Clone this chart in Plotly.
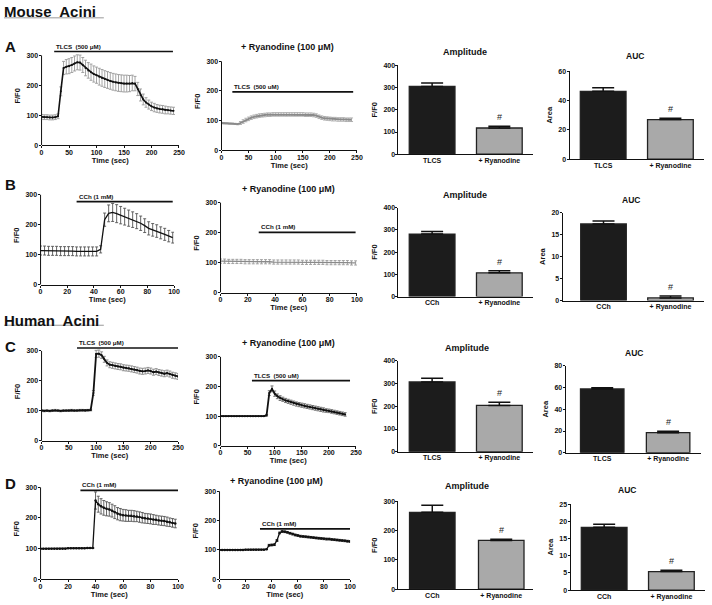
import plotly.graph_objects as go

W, H = 712, 605
FONT = "Liberation Sans, Arial, sans-serif"

# ---------------- time-course data (F/F0) ----------------
step_A = 5
A_tlcs = [95, 94, 94, 93, 93, 94, 97, 180, 258, 262, 264, 268, 273, 277, 276, 268, 258, 250, 244, 238,
          234, 229, 225, 221, 218, 215, 212, 210, 208, 207, 206, 206, 206, 208, 206, 188, 168, 153, 143, 136,
          130, 126, 123, 121, 120, 118, 117, 116, 115]
A_tlcs_err = [8, 8, 8, 8, 8, 8, 8, 15, 22, 24, 25, 25, 25, 25, 25, 25, 26, 26, 27, 27,
              27, 28, 28, 28, 28, 28, 28, 28, 28, 28, 28, 28, 27, 26, 24, 22, 20, 18, 16, 15,
              14, 14, 13, 13, 13, 13, 12, 12, 12]
A_ryan = [92, 91, 91, 90, 90, 89, 88, 92, 97, 102, 106, 110, 113, 115, 117, 118, 119, 120, 120, 121,
          121, 121, 121, 121, 121, 121, 121, 121, 121, 121, 121, 120, 120, 120, 119, 117, 113, 110, 108, 107,
          106, 105, 105, 104, 104, 104, 103, 103, 103]
A_ryan_err = [2, 2, 2, 2, 2, 2, 2, 5, 6, 6, 6, 6, 6, 6, 6, 6, 6, 6, 6, 6,
              6, 6, 6, 6, 6, 6, 6, 6, 6, 6, 6, 6, 6, 6, 6, 6, 6, 6, 6, 6,
              6, 6, 6, 6, 6, 6, 6, 6, 6]

step_B = 3
B_cch = [114, 114, 113, 113, 113, 112, 112, 112, 112, 111, 111, 111, 111, 111, 111, 118, 217, 238, 241, 237,
         232, 227, 222, 217, 212, 205, 197, 188, 183, 179, 173, 168, 162, 157]
B_cch_err = [15, 15, 15, 15, 15, 15, 15, 15, 15, 15, 15, 15, 15, 15, 15, 12, 22, 28, 30, 30,
             29, 28, 27, 26, 25, 24, 23, 22, 21, 21, 20, 20, 19, 18]
B_ryan = [105, 105, 104, 104, 104, 104, 103, 103, 103, 103, 103, 103, 103, 102, 102, 102, 102, 102, 102, 102,
          101, 101, 101, 101, 101, 101, 100, 100, 100, 100, 100, 100, 99, 99]
B_ryan_err = [7, 7, 7, 7, 7, 7, 7, 7, 7, 7, 7, 7, 7, 7, 7, 7, 7, 7, 7, 7,
              7, 7, 7, 7, 7, 7, 7, 7, 7, 7, 7, 7, 7, 7]

step_C = 5
C_tlcs = [101, 100, 101, 100, 101, 102, 101, 100, 101, 101, 101, 102, 101, 101, 102, 102, 101, 102, 103,
          160, 290, 291, 286, 272, 260, 254, 252, 250, 248, 247, 244, 243, 242, 240, 238, 236, 233, 232,
          233, 235, 233, 229, 231, 228, 226, 224, 226, 223, 219, 217, 215]
C_tlcs_err = [3, 3, 3, 3, 3, 3, 3, 3, 3, 3, 3, 3, 3, 3, 3, 3, 3, 3, 3,
              8, 12, 12, 11, 10, 10, 10, 10, 10, 10, 10, 10, 10, 10, 10, 10, 10, 10, 10,
              10, 10, 10, 10, 10, 10, 10, 10, 10, 10, 10, 10, 10]
C_ryan = [100, 100, 100, 100, 100, 100, 100, 100, 100, 100, 100, 100, 100, 100, 100, 100, 100,
          103, 178, 192, 176, 167, 161, 157, 153, 150, 147, 144, 141, 139, 137, 135, 133, 131, 129, 127,
          125, 123, 121, 119, 118, 116, 114, 112, 110, 108, 106]
C_ryan_err = [1, 1, 1, 1, 1, 1, 1, 1, 1, 1, 1, 1, 1, 1, 1, 1, 1,
              3, 8, 10, 9, 8, 8, 7, 7, 7, 7, 7, 7, 7, 7, 7, 7, 7, 7, 7,
              7, 7, 7, 6, 6, 6, 6, 6, 6, 6, 6]

step_D = 2
D_cch = [100, 100, 100, 100, 100, 100, 100, 100, 100, 100, 101, 101, 101, 101, 101, 101, 101, 102, 102, 102,
         257, 245, 238, 233, 230, 228, 224, 219, 214, 211, 209, 208, 207, 207, 206, 205, 203, 201, 199, 198,
         197, 195, 194, 192, 191, 190, 188, 186, 184, 182]
D_cch_err = [1, 1, 1, 1, 1, 1, 1, 1, 1, 1, 1, 1, 1, 1, 1, 1, 1, 1, 1, 1,
             28, 26, 25, 24, 23, 22, 21, 21, 20, 20, 19, 19, 18, 18, 18, 17, 17, 17, 16, 16,
             16, 16, 15, 15, 15, 15, 15, 14, 14, 14]
D_ryan = [100, 100, 100, 100, 100, 100, 100, 100, 100, 100, 101, 101, 101, 101, 101, 101, 101, 101, 102,
          116, 117, 118, 132, 158, 163, 162, 160, 157, 154, 151, 149, 147, 146, 145, 144, 143, 142, 141, 140,
          139, 138, 137, 137, 136, 135, 134, 133, 132, 131, 130, 129]
D_ryan_err = [1, 1, 1, 1, 1, 1, 1, 1, 1, 1, 1, 1, 1, 1, 1, 1, 1, 1, 1,
              3, 3, 3, 3, 3, 3, 3, 3, 3, 3, 3, 3, 3, 3, 3, 3, 3, 3, 3, 3,
              3, 3, 3, 3, 3, 3, 3, 3, 3, 3, 3, 3]

# stimulus bars (label, start s, end s, level F/F0) for panels 1,2,5,6,9,10,13,14
stim_labels = ["TLCS\u00a0 (500 \u03bcM)", "TLCS\u00a0 (500 uM)", "CCh (1 mM)", "CCh (1 mM)",
               "TLCS\u00a0 (500 \u03bcM)", "TLCS\u00a0 (500 uM)", "CCh (1 mM)", "CCh (1 mM)"]
stim_start = [23, 20, 27, 28, 65, 58, 29, 31]
stim_end = [239, 243, 99, 99, 250, 239, 100, 100]
stim_level = [313, 197, 277, 201, 310, 220, 290, 172]

# ---------------- bar data ----------------
cats_TLCS = ["TLCS", "+ Ryanodine"]
cats_CCh = ["CCh", "+ Ryanodine"]
amp_A = [305, 118]; amp_A_err = [15, 8]
auc_A = [46.3, 27.0]; auc_A_err = [2.4, 0.9]
amp_B = [281, 107]; amp_B_err = [12, 9]
auc_B = [17.4, 0.6]; auc_B_err = [0.7, 0.45]
amp_C = [307, 204]; amp_C_err = [16, 14]
auc_C = [58.7, 18.5]; auc_C_err = [1.0, 1.2]
amp_D = [262, 166]; amp_D_err = [24, 4]
auc_D = [18.25, 5.4]; auc_D_err = [0.9, 0.4]

fig = go.Figure()
layout = {}
annotations = []
shapes = []


def axname(i, letter):
    return letter if i == 1 else f"{letter}{i}"


def tickfont(size=7):
    return dict(family=FONT, size=size, color="#111", weight="bold")


# ---------------- time-course panels ----------------
trace_panels = [
    (1, 40, 179, 52, 143, 250, 50, A_tlcs, A_tlcs_err, step_A, "#111", "#9a9a9a", 1.6, 2),
    (2, 222, 359, 58, 148, 250, 50, A_ryan, A_ryan_err, step_A, "#8a8a8a", "#a8a8a8", 1.8, 0),
    (5, 39, 174, 193, 284, 100, 20, B_cch, B_cch_err, step_B, "#111", "#555", 1.3, 0),
    (6, 221, 359, 201, 292, 100, 20, B_ryan, B_ryan_err, step_B, "#8a8a8a", "#9a9a9a", 1.3, 0),
    (9, 40, 178, 351, 442, 250, 50, C_tlcs, C_tlcs_err, step_C, "#111", "#8a8a8a", 1.8, 2),
    (10, 221, 358, 357, 447, 250, 50, C_ryan, C_ryan_err, step_C, "#111", "#6a6a6a", 1.8, 2),
    (13, 39, 178, 489, 582, 100, 20, D_cch, D_cch_err, step_D, "#111", "#555", 1.3, 2.5),
    (14, 220, 352, 493, 582, 100, 20, D_ryan, D_ryan_err, step_D, "#111", "#444", 1.3, 2.5),
]

for k, (i, x0, x1, y300, y0, xmax, xdt, vals, errs, step, lc, ec, lw, ms) in enumerate(trace_panels):
    xa, ya = axname(i, "x"), axname(i, "y")
    t = [n * step for n in range(len(vals))]
    fig.add_trace(go.Scatter(
        x=t, y=vals, xaxis=xa, yaxis=ya, mode="lines+markers" if ms else "lines",
        line=dict(color=lc, width=lw), marker=dict(size=ms, color=lc),
        error_y=dict(type="data", array=errs, color=ec, thickness=0.9, width=1.5),
        showlegend=False, hoverinfo="skip"))
    fig.add_trace(go.Scatter(
        x=[stim_start[k], stim_end[k]], y=[stim_level[k], stim_level[k]], xaxis=xa, yaxis=ya,
        mode="lines", line=dict(color="#111", width=1.6), showlegend=False, hoverinfo="skip"))
    annotations.append(dict(x=stim_start[k], y=stim_level[k], xref=xa, yref=ya, text=stim_labels[k],
                            showarrow=False, xanchor="left", yanchor="bottom", yshift=0,
                            font=dict(family=FONT, size=6.2, color="#111", weight="bold")))
    top = y300 - (y0 - y300) * 0.1
    layout["xaxis" + ("" if i == 1 else str(i))] = dict(
        domain=[x0 / W, x1 / W], anchor=ya, range=[0, xmax], tick0=0, dtick=xdt,
        showline=True, linecolor="#111", linewidth=1, ticks="outside", ticklen=2, tickcolor="#111",
        ticklabelstandoff=-2,
        showgrid=False, zeroline=False, tickfont=tickfont(),
        title=dict(text="Time (sec)", standoff=2, font=dict(family=FONT, size=7.5, color="#111", weight="bold")))
    layout["yaxis" + ("" if i == 1 else str(i))] = dict(
        domain=[1 - y0 / H, 1 - top / H], anchor=xa, range=[0, 330], tickvals=[0, 100, 200, 300],
        showline=False, ticks="outside", ticklen=2, tickcolor="#111", ticklabelstandoff=-1,
        showgrid=False, zeroline=False, tickfont=tickfont(),
        title=dict(text="F/F0", standoff=4, font=dict(family=FONT, size=7.5, color="#111", weight="bold")))
    shapes.append(dict(type="line", xref=xa + " domain", x0=0, x1=0, yref=ya, y0=0, y1=300,
                       line=dict(color="#111", width=1)))

# ---------------- bar panels ----------------
bar_panels = [
    (3, 401, 537, 62, 152, 400, 100, [-0.5, 1.5], cats_TLCS, amp_A, amp_A_err, "F/F0", 0.68),
    (4, 574, 710, 68, 157, 60, 20, [-0.5, 1.5], cats_TLCS, auc_A, auc_A_err, "Area", 0.68),
    (7, 401, 537, 206, 296, 400, 100, [-0.5, 1.5], cats_CCh, amp_B, amp_B_err, "F/F0", 0.68),
    (8, 567, 710, 211, 300, 20, 5, [-0.61, 1.5], cats_CCh, auc_B, auc_B_err, "Area", 0.68),
    (11, 401, 537, 361, 453, 400, 100, [-0.5, 1.5], cats_TLCS, amp_C, amp_C_err, "F/F0", 0.68),
    (12, 570, 707, 366, 454, 80, 20, [-0.556, 1.5], cats_TLCS, auc_C, auc_C_err, "Area", 0.66),
    (15, 401, 537, 503, 592, 300, 100, [-0.49, 1.46], cats_CCh, amp_D, amp_D_err, "F/F0", 0.66),
    (16, 575, 711, 506, 593, 25, 5, [-0.5, 1.5], cats_CCh, auc_D, auc_D_err, "Area", 0.68),
]

for (i, x0, x1, yt, yb, ymax, dt, xr, cats, vals, errs, ylab, bw) in bar_panels:
    xa, ya = axname(i, "x"), axname(i, "y")
    fig.add_trace(go.Bar(
        x=cats, y=vals, xaxis=xa, yaxis=ya, width=bw,
        marker=dict(color=["#1c1c1c", "#a9a9a9"], line=dict(color="#222", width=1.3)),
        error_y=dict(type="data", array=errs, arrayminus=[0, 0], symmetric=False,
                     color="#111", thickness=1.5, width=11),
        showlegend=False, hoverinfo="skip"))
    annotations.append(dict(x=cats[1], y=vals[1] + errs[1], xref=xa, yref=ya, text="#",
                            showarrow=False, yanchor="bottom", yshift=2,
                            font=dict(family=FONT, size=9, color="#222")))
    layout["xaxis" + str(i)] = dict(
        domain=[x0 / W, x1 / W], anchor=ya, type="category", range=xr,
        showline=True, linecolor="#111", linewidth=1, ticks="", showgrid=False, zeroline=False,
        ticklabelstandoff=-1, tickfont=tickfont(7))
    layout["yaxis" + str(i)] = dict(
        domain=[1 - yb / H, 1 - yt / H], anchor=xa, range=[0, ymax], tick0=0, dtick=dt,
        showline=True, linecolor="#111", linewidth=1, ticks="outside", ticklen=2, tickcolor="#111",
        ticklabelstandoff=-1,
        showgrid=False, zeroline=False, tickfont=tickfont(),
        title=dict(text=ylab, standoff=4, font=dict(family=FONT, size=7.5, color="#111", weight="bold")))

# ---------------- titles & labels ----------------
def ptext(text, cx, cy, size, xanchor="center"):
    annotations.append(dict(x=cx / W, y=1 - cy / H, xref="paper", yref="paper", text=text, showarrow=False,
                            xanchor=xanchor, yanchor="middle",
                            font=dict(family=FONT, size=size, color="#111", weight="bold")))

ryan_title = "+ Ryanodine (100 \u03bcM)"
for cx, cy in [(289, 44), (290, 187), (290, 343), (278, 483)]:
    ptext(ryan_title, cx, cy, 9)
for cx, cy in [(468, 49), (468, 193), (470, 348), (470, 488)]:
    ptext("Amplitude", cx, cy, 9)
for cx, cy in [(640, 53), (636, 198), (639, 353), (632, 492)]:
    ptext("AUC", cx, cy, 8.5)
for lab, cx, cy in [("A", 9, 43), ("B", 9, 183), ("C", 9, 347), ("D", 9, 485)]:
    ptext(lab, cx, cy, 15)
ptext("Mouse\u00a0 Acini", 0, 8, 15, xanchor="left")
ptext("Human\u00a0 Acini", 0, 320, 15, xanchor="left")
for y in [14, 325]:
    shapes.append(dict(type="line", xref="paper", yref="paper", x0=2 / W, x1=103 / W,
                       y0=1 - y / H, y1=1 - y / H, line=dict(color="#999", width=1)))

fig.update_layout(
    width=W, height=H, margin=dict(l=0, r=0, t=0, b=0),
    paper_bgcolor="white", plot_bgcolor="white",
    font=dict(family=FONT, color="#111"),
    annotations=annotations, shapes=shapes, bargap=0.3,
    **layout)

fig.write_html("out.html", config={"displayModeBar": False},
               post_script="document.body.style.margin='0';")
